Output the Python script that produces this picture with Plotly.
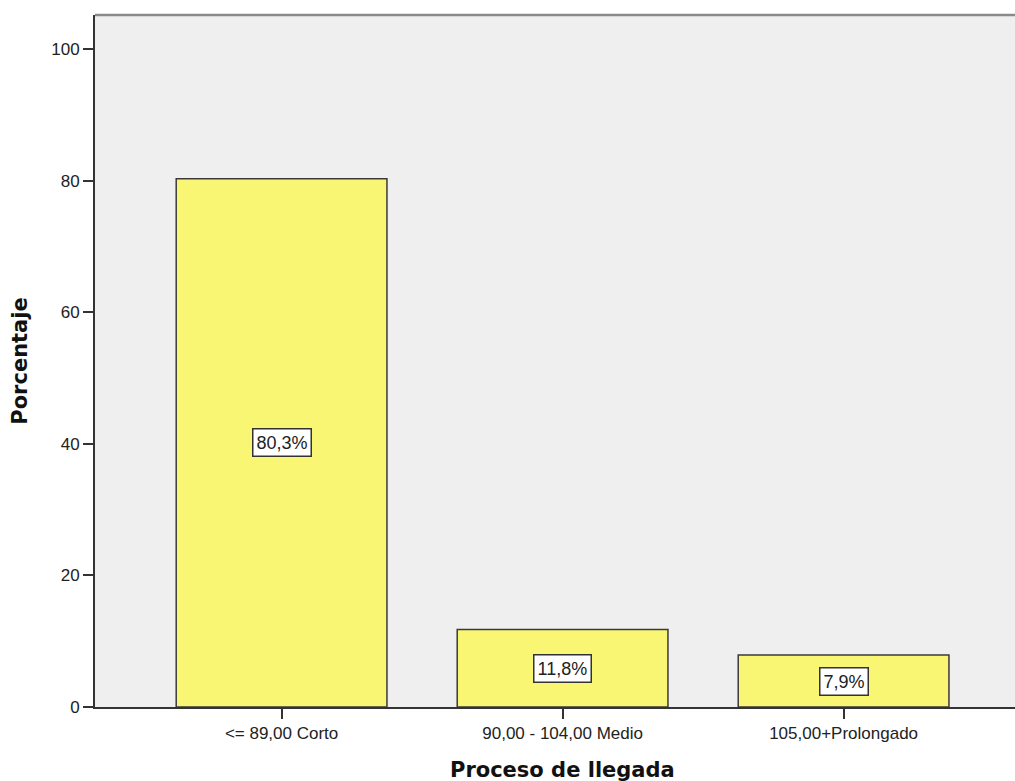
import plotly.graph_objects as go

categorias = ["<= 89,00 Corto", "90,00 - 104,00 Medio", "105,00+Prolongado"]
porcentajes = [80.3, 11.8, 7.9]
etiquetas = ["80,3%", "11,8%", "7,9%"]
ticks_y = [0, 20, 40, 60, 80, 100]

posiciones = list(range(len(categorias)))

fig = go.Figure()
fig.add_trace(go.Bar(
    x=posiciones,
    y=porcentajes,
    width=0.75,
    marker=dict(color="#F9F674", line=dict(color="#3a3a3a", width=1.5)),
    hoverinfo="skip",
))

# value labels in boxed annotations at mid-height of each bar
for xi, v, t in zip(posiciones, porcentajes, etiquetas):
    fig.add_annotation(
        x=xi, y=v / 2, text=t, showarrow=False,
        font=dict(family="Liberation Sans, Arial", size=18, color="#222"),
        bgcolor="white", bordercolor="#333", borderwidth=1.5, borderpad=3,
    )

# x-axis title, centred under the middle category
fig.add_annotation(
    x=1, xref="x", y=0, yref="paper", yshift=-63, yanchor="middle",
    text="<b>Proceso de llegada</b>", showarrow=False,
    font=dict(family="DejaVu Sans, Arial", size=21, color="#111"),
)

# top frame line of the plot area
fig.add_shape(type="line", xref="paper", yref="paper", x0=0, x1=1, y0=1, y1=1,
              line=dict(color="#8a8a8a", width=2.5))

fig.update_layout(
    width=1015, height=781,
    margin=dict(l=95, r=0, t=15, b=74),
    paper_bgcolor="white",
    plot_bgcolor="#EFEFEF",
    showlegend=False,
    font=dict(family="Liberation Sans, Arial", size=17, color="#222"),
)
fig.update_xaxes(
    range=[-0.664, 2.61],
    tickmode="array", tickvals=posiciones, ticktext=categorias,
    ticks="outside", ticklen=10, tickcolor="#333", tickwidth=2,
    showline=True, linecolor="#333", linewidth=2,
    showgrid=False, zeroline=False,
    tickfont=dict(size=17),
)
fig.update_yaxes(
    range=[0, 105.2],
    tickmode="array", tickvals=ticks_y,
    ticks="outside", ticklen=10, tickcolor="#333", tickwidth=2,
    showline=True, linecolor="#333", linewidth=2,
    showgrid=False, zeroline=False,
    tickfont=dict(size=17),
    title=dict(text="<b>Porcentaje</b>", standoff=18,
               font=dict(family="DejaVu Sans, Arial", size=21, color="#111")),
)

fig.write_html("out.html")
